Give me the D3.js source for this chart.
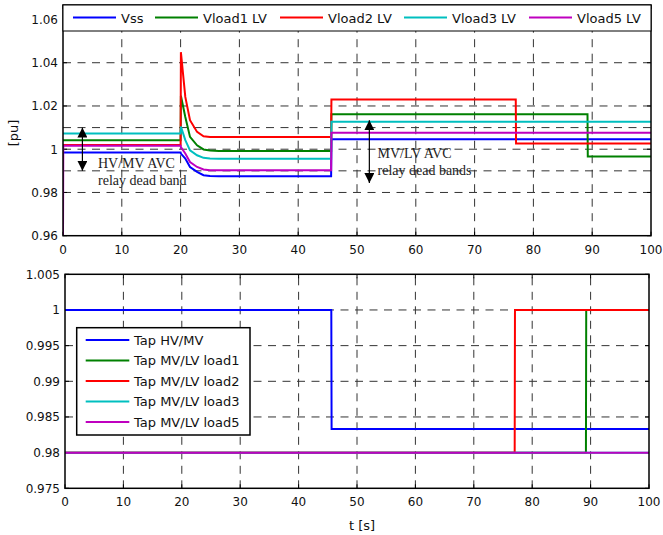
<!DOCTYPE html>
<html>
<head>
<meta charset="utf-8">
<script src="https://cdn.jsdelivr.net/npm/d3@7"></script>
<style>
  body { margin: 0; background: #fff; }
  svg text { font-family: "DejaVu Sans", sans-serif; fill: #111; }
</style>
</head>
<body>
<div id="chart"></div>
<script>
// ---- data ----
const xTicks = [0, 10, 20, 30, 40, 50, 60, 70, 80, 90, 100];
const topYTicks = [0.96, 0.98, 1, 1.02, 1.04, 1.06];
const deadBand = [0.99, 1.01];
const botYTicks = [0.975, 0.98, 0.985, 0.99, 0.995, 1, 1.005];

const voltNames = ["Vss", "Vload1 LV", "Vload2 LV", "Vload3 LV", "Vload5 LV"];
const tapNames = ["Tap HV/MV", "Tap MV/LV load1", "Tap MV/LV load2", "Tap MV/LV load3", "Tap MV/LV load5"];
const colors = ["#0000ff", "#008000", "#ff0000", "#00bfbf", "#bf00bf"];

const tVolt = [0, 0.05, 20, 20.05, 20.8, 21.6, 22.8, 23.9, 25, 26.5, 45.6, 45.65, 77, 77.05, 89.2, 89.25, 100];
const vss    = [0.9985, 0.9985, 0.9985, 0.9980, 0.9957, 0.9918, 0.9895, 0.9880, 0.9876, 0.9875, 0.9875, 1.0046, 1.0046, 1.0046, 1.0046, 1.0046, 1.0046];
const vload1 = [1.0042, 1.0042, 1.0042, 1.0247, 1.0149, 1.0057, 1.0018, 0.9999, 0.9994, 0.9992, 0.9992, 1.0162, 1.0162, 1.0162, 1.0162, 0.9966, 0.9966];
const vload2 = [1.0020, 1.0020, 1.0020, 1.0449, 1.0242, 1.0134, 1.0080, 1.0060, 1.0057, 1.0057, 1.0057, 1.0230, 1.0230, 1.0026, 1.0026, 1.0026, 1.0026];
const vload3 = [1.0073, 1.0073, 1.0073, 1.0105, 1.0042, 0.9995, 0.9972, 0.9960, 0.9957, 0.9956, 0.9956, 1.0127, 1.0127, 1.0127, 1.0127, 1.0127, 1.0127];
const vload5 = [0.9600, 1.0016, 1.0016, 1.0010, 0.9980, 0.9941, 0.9918, 0.9906, 0.9903, 0.9903, 0.9903, 1.0076, 1.0076, 1.0076, 1.0076, 1.0076, 1.0076];

const tTap = [0, 45.6, 45.65, 77, 77.05, 89.2, 89.25, 100];
const tapHvMv  = [1, 1, 0.98333, 0.98333, 0.98333, 0.98333, 0.98333, 0.98333];
const tapLoad1 = [0.98, 0.98, 0.98, 0.98, 0.98, 0.98, 1, 1];
const tapLoad2 = [0.98, 0.98, 0.98, 0.98, 1, 1, 1, 1];
const tapLoad3 = [0.98, 0.98, 0.98, 0.98, 0.98, 0.98, 0.98, 0.98];
const tapLoad5 = [0.98, 0.98, 0.98, 0.98, 0.98, 0.98, 0.98, 0.98];

const width = 663, height = 535;

const svg = d3.select("#chart").append("svg")
  .attr("width", width)
  .attr("height", height);

// scales
const xTop = d3.scaleLinear().domain([0, 100]).range([63, 651]);
const yTop = d3.scaleLinear().domain([0.96, 1.0667]).range([235.7, 5]);
const xBot = d3.scaleLinear().domain([0, 100]).range([65, 649]);
const yBot = d3.scaleLinear().domain([0.975, 1.005]).range([488.3, 274.3]);

const dash = "8,6.5";

function drawPanel(x, y, yTicks, extraY, id) {
  const g = svg.append("g");
  const [x0, x1] = x.range();
  const [y0, y1] = y.range();

  g.append("clipPath").attr("id", id)
    .append("rect")
    .attr("x", x0).attr("y", y1)
    .attr("width", x1 - x0).attr("height", y0 - y1);

  // vertical grid
  g.selectAll(".vg").data(xTicks.slice(1, -1)).join("line")
    .attr("x1", d => x(d)).attr("x2", d => x(d))
    .attr("y1", y0).attr("y2", y1)
    .style("stroke", "#333").style("stroke-width", 1)
    .style("stroke-dasharray", dash);

  // horizontal grid
  const hg = yTicks.filter(d => d > y.domain()[0] && d < y.domain()[1]).concat(extraY);
  g.selectAll(".hg").data(hg).join("line")
    .attr("x1", x0).attr("x2", x1)
    .attr("y1", d => y(d)).attr("y2", d => y(d))
    .style("stroke", "#333").style("stroke-width", 1)
    .style("stroke-dasharray", dash);

  // inward ticks on all sides
  const tk = 4;
  g.selectAll(".tb").data(xTicks).join("line")
    .attr("x1", d => x(d)).attr("x2", d => x(d))
    .attr("y1", y0).attr("y2", y0 - tk)
    .style("stroke", "#000");
  g.selectAll(".tt").data(xTicks).join("line")
    .attr("x1", d => x(d)).attr("x2", d => x(d))
    .attr("y1", y1).attr("y2", y1 + tk)
    .style("stroke", "#000");
  g.selectAll(".tl").data(yTicks).join("line")
    .attr("x1", x0).attr("x2", x0 + tk)
    .attr("y1", d => y(d)).attr("y2", d => y(d))
    .style("stroke", "#000");
  g.selectAll(".tr").data(yTicks).join("line")
    .attr("x1", x1).attr("x2", x1 - tk)
    .attr("y1", d => y(d)).attr("y2", d => y(d))
    .style("stroke", "#000");

  // tick labels
  g.selectAll(".xl").data(xTicks).join("text")
    .attr("x", d => x(d)).attr("y", y0 + 18)
    .attr("text-anchor", "middle")
    .style("font-size", "12px")
    .text(d => d);
  g.selectAll(".yl").data(yTicks).join("text")
    .attr("x", x0 - 5).attr("y", d => y(d))
    .attr("dy", "0.36em")
    .attr("text-anchor", "end")
    .style("font-size", "12px")
    .text(d => d3.format("")(d));

  return g;
}

const gTop = drawPanel(xTop, yTop, topYTicks, deadBand, "clipTop");
const gBot = drawPanel(xBot, yBot, botYTicks, [], "clipBot");

// top lines
const voltSeries = [vss, vload1, vload2, vload3, vload5];
const lineTop = d3.line().x(d => xTop(d[0])).y(d => yTop(d[1]));
voltSeries.forEach((s, i) => {
  gTop.append("path")
    .datum(tVolt.map((t, j) => [t, s[j]]))
    .attr("d", lineTop)
    .attr("clip-path", "url(#clipTop)")
    .style("fill", "none")
    .style("stroke", colors[i])
    .style("stroke-width", 2);
});

// bottom lines
const tapSeries = [tapHvMv, tapLoad1, tapLoad2, tapLoad3, tapLoad5];
const lineBot = d3.line().x(d => xBot(d[0])).y(d => yBot(d[1]));
tapSeries.forEach((s, i) => {
  gBot.append("path")
    .datum(tTap.map((t, j) => [t, s[j]]))
    .attr("d", lineBot)
    .attr("clip-path", "url(#clipBot)")
    .style("fill", "none")
    .style("stroke", colors[i])
    .style("stroke-width", 2);
});

// annotations (top panel)
const defs = svg.append("defs");
defs.append("marker")
  .attr("id", "head")
  .attr("viewBox", "0 0 10 10")
  .attr("refX", 10).attr("refY", 5)
  .attr("markerWidth", 10).attr("markerHeight", 10)
  .attr("markerUnits", "userSpaceOnUse")
  .attr("orient", "auto-start-reverse")
  .append("path")
  .attr("d", "M0,0 L10,5 L0,10 Z")
  .style("fill", "#000");

function arrow(t, v0, v1) {
  gTop.append("line")
    .attr("x1", xTop(t)).attr("x2", xTop(t))
    .attr("y1", yTop(v0)).attr("y2", yTop(v1))
    .style("stroke", "#000").style("stroke-width", 1.2)
    .attr("marker-start", "url(#head)")
    .attr("marker-end", "url(#head)");
}
arrow(3.3, 1.01, 0.99);
arrow(52.1, 1.0134, 0.9844);

function note(xp, yp, lines) {
  lines.forEach((l, i) => {
    gTop.append("text")
      .attr("x", xp).attr("y", yp + i * 16.5)
      .style("font-family", "'Liberation Serif', 'DejaVu Serif', serif")
      .style("font-size", "14px")
      .style("fill", "#222")
      .text(l);
  });
}
note(98, 168.3, ["HV/MV AVC", "relay dead band"]);
note(377.5, 158.3, ["MV/LV AVC", "relay dead bands"]);

// frames
[[xTop, yTop], [xBot, yBot]].forEach(([x, y]) => {
  svg.append("rect")
    .attr("x", x.range()[0]).attr("y", y.range()[1])
    .attr("width", x.range()[1] - x.range()[0])
    .attr("height", y.range()[0] - y.range()[1])
    .style("fill", "none")
    .style("stroke", "#000")
    .style("stroke-width", 1.5);
});

// top legend (horizontal)
const legTop = svg.append("g");
legTop.append("rect")
  .attr("x", 63).attr("y", 5)
  .attr("width", 588).attr("height", 26)
  .style("fill", "#fff").style("stroke", "#000").style("stroke-width", 1);
const legX = [73, 155, 280, 404, 529];
voltNames.forEach((n, i) => {
  legTop.append("line")
    .attr("x1", legX[i]).attr("x2", legX[i] + 43)
    .attr("y1", 17.5).attr("y2", 17.5)
    .style("stroke", colors[i]).style("stroke-width", 2);
  legTop.append("text")
    .attr("x", legX[i] + 48).attr("y", 22.5)
    .style("font-size", "13px")
    .text(n);
});

// bottom legend (vertical)
const legBot = svg.append("g");
legBot.append("rect")
  .attr("x", 76.7).attr("y", 327.7)
  .attr("width", 173.3).attr("height", 107.3)
  .style("fill", "#fff").style("stroke", "#000").style("stroke-width", 1.5);
tapNames.forEach((n, i) => {
  const yy = 340 + i * 20.5;
  legBot.append("line")
    .attr("x1", 85.7).attr("x2", 129.3)
    .attr("y1", yy).attr("y2", yy)
    .style("stroke", colors[i]).style("stroke-width", 2);
  legBot.append("text")
    .attr("x", 134).attr("y", yy + 4.6)
    .style("font-size", "13px")
    .text(n);
});

// axis titles
svg.append("text")
  .attr("transform", "translate(18,133) rotate(-90)")
  .attr("text-anchor", "middle")
  .style("font-size", "13px")
  .text("[pu]");
svg.append("text")
  .attr("x", 362).attr("y", 529.5)
  .attr("text-anchor", "middle")
  .style("font-size", "13px")
  .text("t [s]");
</script>
</body>
</html>
